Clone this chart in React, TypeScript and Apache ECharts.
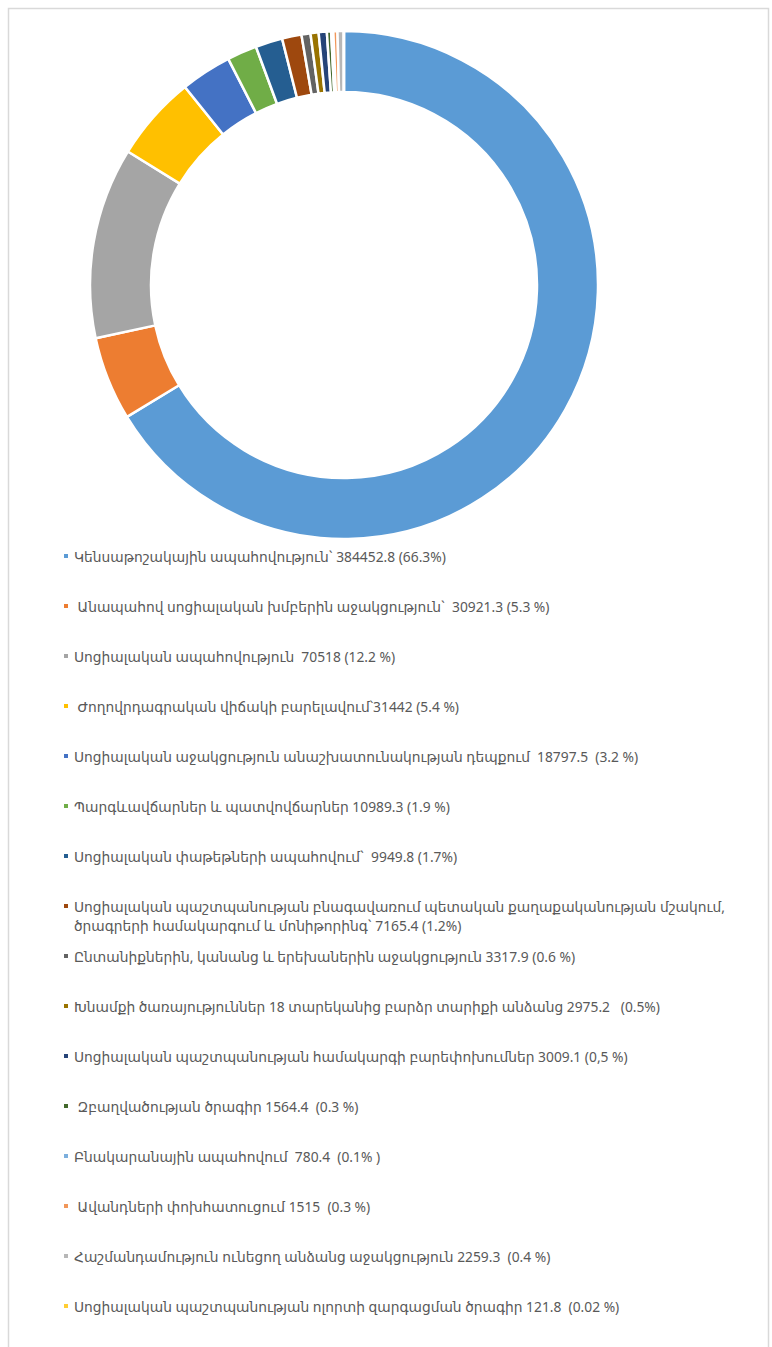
import React, { useEffect, useRef } from "react";
import * as echarts from "echarts";

const categories: string[] = [
  "Կենսաթոշակային ապահովություն` 384452.8 (66.3%)",
  " Անապահով սոցիալական խմբերին աջակցություն`  30921.3 (5.3 %)",
  "Սոցիալական ապահովություն  70518 (12.2 %)",
  " Ժողովրդագրական վիճակի բարելավում՝31442 (5.4 %)",
  "Սոցիալական աջակցություն անաշխատունակության դեպքում  18797.5  (3.2 %)",
  "Պարգևավճարներ և պատվովճարներ 10989.3 (1.9 %)",
  "Սոցիալական փաթեթների ապահովում`  9949.8 (1.7%)",
  "Սոցիալական պաշտպանության բնագավառում պետական քաղաքականության մշակում,\nծրագրերի համակարգում և մոնիթորինգ` 7165.4 (1.2%)",
  "Ընտանիքներին, կանանց և երեխաներին աջակցություն 3317.9 (0.6 %)",
  "Խնամքի ծառայություններ 18 տարեկանից բարձր տարիքի անձանց 2975.2   (0.5%)",
  "Սոցիալական պաշտպանության համակարգի բարեփոխումներ 3009.1 (0,5 %)",
  " Զբաղվածության ծրագիր 1564.4  (0.3 %)",
  "Բնակարանային ապահովում  780.4  (0.1% )",
  " Ավանդների փոխհատուցում 1515  (0.3 %)",
  "Հաշմանդամություն ունեցող անձանց աջակցություն 2259.3  (0.4 %)",
  "Սոցիալական պաշտպանության ոլորտի զարգացման ծրագիր 121.8  (0.02 %)",
];

const values: number[] = [
  384452.8, 30921.3, 70518, 31442, 18797.5, 10989.3, 9949.8, 7165.4, 3317.9,
  2975.2, 3009.1, 1564.4, 780.4, 1515, 2259.3, 121.8,
];

const colors: string[] = [
  "#5B9BD5", "#ED7D31", "#A5A5A5", "#FFC000", "#4472C4", "#70AD47", "#255E91",
  "#9E480E", "#636363", "#997300", "#264478", "#43682B", "#7CAFDD", "#F1975A",
  "#B7B7B7", "#FFCD33",
];

const FONT = "'Noto Sans', 'DejaVu Sans', sans-serif";

export default function App() {
  const ref = useRef<HTMLDivElement>(null);
  useEffect(() => {
    document.body.style.margin = "0";
    const chart = echarts.init(ref.current!, null, { renderer: "svg" });
    const secondLines = categories
      .map((c, i) => ({ c, i }))
      .filter((o) => o.c.includes("\n"));
    chart.setOption({
      animation: false,
      color: colors,
      graphic: [
        {
          type: "rect",
          shape: { x: 8.5, y: 8.5, width: 760, height: 1360 },
          style: { fill: "none", stroke: "#d9d9d9", lineWidth: 1.5 },
          silent: true,
        },
        ...secondLines.map((o) => ({
          type: "text",
          left: 74,
          top: 556 + o.i * 50 + 12,
          style: {
            text: o.c.split("\n")[1],
            fill: "#595959",
            font: `13.8px ${FONT}`,
          },
        })),
      ],
      legend: {
        orient: "vertical",
        left: 62,
        top: 548,
        padding: 0,
        icon: "rect",
        itemWidth: 6,
        itemHeight: 6,
        itemGap: 34,
        itemTextGap: 6,
        selectedMode: false,
        data: categories,
        formatter: (name: string) => name.split("\n")[0],
        textStyle: {
          color: "#595959",
          fontSize: 13.8,
          lineHeight: 16,
          fontFamily: FONT,
        },
      },
      series: [
        {
          type: "pie",
          center: [344, 285],
          radius: [193, 254],
          startAngle: 90,
          clockwise: true,
          label: { show: false },
          labelLine: { show: false },
          itemStyle: { borderColor: "#ffffff", borderWidth: 2.5 },
          emphasis: { disabled: true },
          data: categories.map((name, i) => ({ name, value: values[i] })),
        },
      ],
    });
    return () => chart.dispose();
  }, []);
  return <div ref={ref} style={{ width: 772, height: 1347 }} />;
}
